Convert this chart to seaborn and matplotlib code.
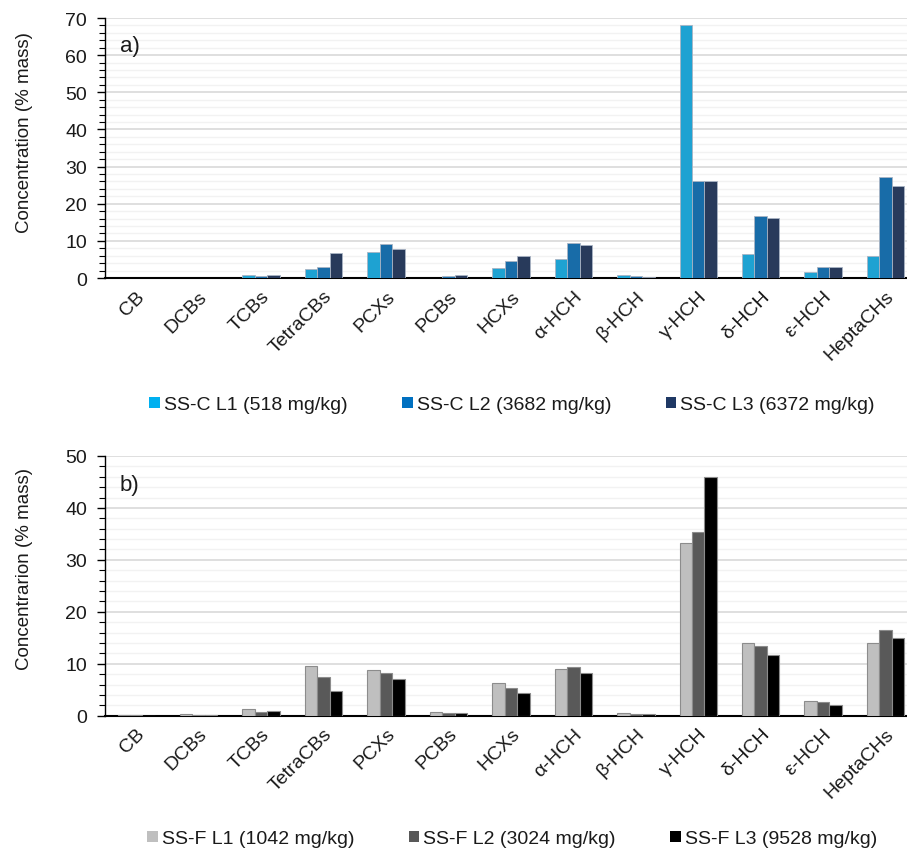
import matplotlib
matplotlib.use("Agg")
import matplotlib.pyplot as plt
from matplotlib.ticker import MultipleLocator
from matplotlib.patches import Patch
from matplotlib.transforms import ScaledTranslation
import seaborn as sns
import pandas as pd

# Compound groups on the x axis
compounds = ["CB", "DCBs", "TCBs", "TetraCBs", "PCXs", "PCBs", "HCXs",
             "α-HCH", "β-HCH", "γ-HCH", "δ-HCH", "ε-HCH", "HeptaCHs"]

# Panel a) coarse soil samples, % mass
series_c = ["SS-C L1 (518 mg/kg)", "SS-C L2 (3682 mg/kg)", "SS-C L3 (6372 mg/kg)"]
ssc_l1 = [0.1, 0.1, 0.7, 2.3, 6.9, 0.1, 2.6, 5.0, 0.7, 68.0, 6.4, 1.5, 5.8]
ssc_l2 = [0.1, 0.1, 0.45, 3.1, 9.2, 0.45, 4.6, 9.3, 0.45, 26.0, 16.6, 3.1, 27.1]
ssc_l3 = [0.1, 0.1, 0.7, 6.7, 7.7, 0.7, 6.0, 8.8, 0.3, 26.0, 16.1, 2.9, 24.7]
colors_c = ["#00B0F0", "#0070C0", "#1F3864"]

# Panel b) fine soil samples, % mass
series_f = ["SS-F L1 (1042 mg/kg)", "SS-F L2 (3024 mg/kg)", "SS-F L3 (9528 mg/kg)"]
ssf_l1 = [0.05, 0.3, 1.2, 9.5, 8.7, 0.8, 6.2, 8.9, 0.6, 33.3, 14.0, 2.8, 14.0]
ssf_l2 = [0.1, 0.1, 0.7, 7.4, 8.3, 0.6, 5.4, 9.4, 0.3, 35.4, 13.5, 2.7, 16.4]
ssf_l3 = [0.0, 0.1, 0.9, 4.7, 7.0, 0.45, 4.4, 8.2, 0.3, 46.0, 11.7, 2.0, 15.0]
colors_f = ["#BFBFBF", "#595959", "#000000"]


def long_table(series, values):
    rows = []
    for name, vals in zip(series, values):
        for comp, v in zip(compounds, vals):
            rows.append({"compound": comp, "series": name, "value": v})
    return pd.DataFrame(rows)


sns.set_theme(style="white")
plt.rcParams["font.family"] = ["Liberation Sans", "DejaVu Sans"]

fig = plt.figure(figsize=(9.07, 8.53), dpi=100)
ax_a = fig.add_axes([0.1158, 0.6729, 0.895, 0.3048])
ax_b = fig.add_axes([0.1158, 0.1598, 0.895, 0.3045])

TEXT = "#1a1a1a"


def draw_panel(ax, series, values, colors, ymax, ylabel, tag, edge, lw,
               label_y, tag_y):
    df = long_table(series, values)
    sns.barplot(data=df, x="compound", y="value", hue="series",
                order=compounds, hue_order=series, palette=colors,
                width=0.6, gap=0, errorbar=None, legend=False, ax=ax,
                edgecolor=edge, linewidth=lw, zorder=3)
    ax.set_xlim(-0.5, len(compounds) - 0.5)
    ax.set_ylim(0, ymax)
    ax.yaxis.set_major_locator(MultipleLocator(10))
    ax.yaxis.set_minor_locator(MultipleLocator(2))
    ax.grid(axis="y", which="major", color="#D9D9D9", linewidth=1.2, zorder=0)
    ax.grid(axis="y", which="minor", color="#F2F2F2", linewidth=1.0, zorder=0)
    ax.grid(axis="x", visible=False)
    ax.set_axisbelow(True)
    for side in ("top", "right"):
        ax.spines[side].set_visible(False)
    ax.spines["left"].set_color("black")
    ax.spines["left"].set_linewidth(1.0)
    ax.spines["bottom"].set_color("black")
    ax.spines["bottom"].set_linewidth(1.5)
    ax.tick_params(axis="y", which="major", left=True, length=6, width=1,
                   color="black", labelsize=14, pad=7, labelcolor=TEXT)
    ax.tick_params(axis="y", which="minor", left=True, length=4, width=0.8,
                   color="black")
    ax.tick_params(axis="x", length=0, labelsize=14, pad=11, labelcolor=TEXT)
    shift = ScaledTranslation(6 / 100, 0, fig.dpi_scale_trans)
    for lab in ax.get_xticklabels():
        lab.set_rotation(45)
        lab.set_ha("right")
        lab.set_va("center")
        lab.set_rotation_mode("anchor")
        lab.set_transform(lab.get_transform() + shift)
    ax.set_xlabel("")
    ax.set_ylabel(ylabel, fontsize=13.5, color=TEXT)
    ax.yaxis.set_label_coords(-0.0887, label_y)
    ax.text(0.018, tag_y, tag, transform=ax.transAxes, fontsize=16,
            color=TEXT, va="center", ha="left")
    return ax


draw_panel(ax_a, series_c, [ssc_l1, ssc_l2, ssc_l3], colors_c, 70,
           "Concentration (% mass)", "a)", "#A9B4C4", 0.6, 0.565, 0.896)
draw_panel(ax_b, series_f, [ssf_l1, ssf_l2, ssf_l3], colors_f, 50,
           "Concentrarion (% mass)", "b)", "#8C8C8C", 0.8, 0.569, 0.892)


def add_legend(series, colors, y):
    handles = [Patch(facecolor=c, edgecolor="none") for c in colors]
    fig.legend(handles, series, loc="center", bbox_to_anchor=(0.5645, y),
               ncol=3, frameon=False, fontsize=14, handlelength=0.55,
               handleheight=0.55, handletextpad=0.2, columnspacing=2.8,
               labelcolor=TEXT)


add_legend(series_c, colors_c, 1 - 406 / 853)
add_legend(series_f, colors_f, 1 - 840 / 853)

fig.savefig("out.png", dpi=100)
